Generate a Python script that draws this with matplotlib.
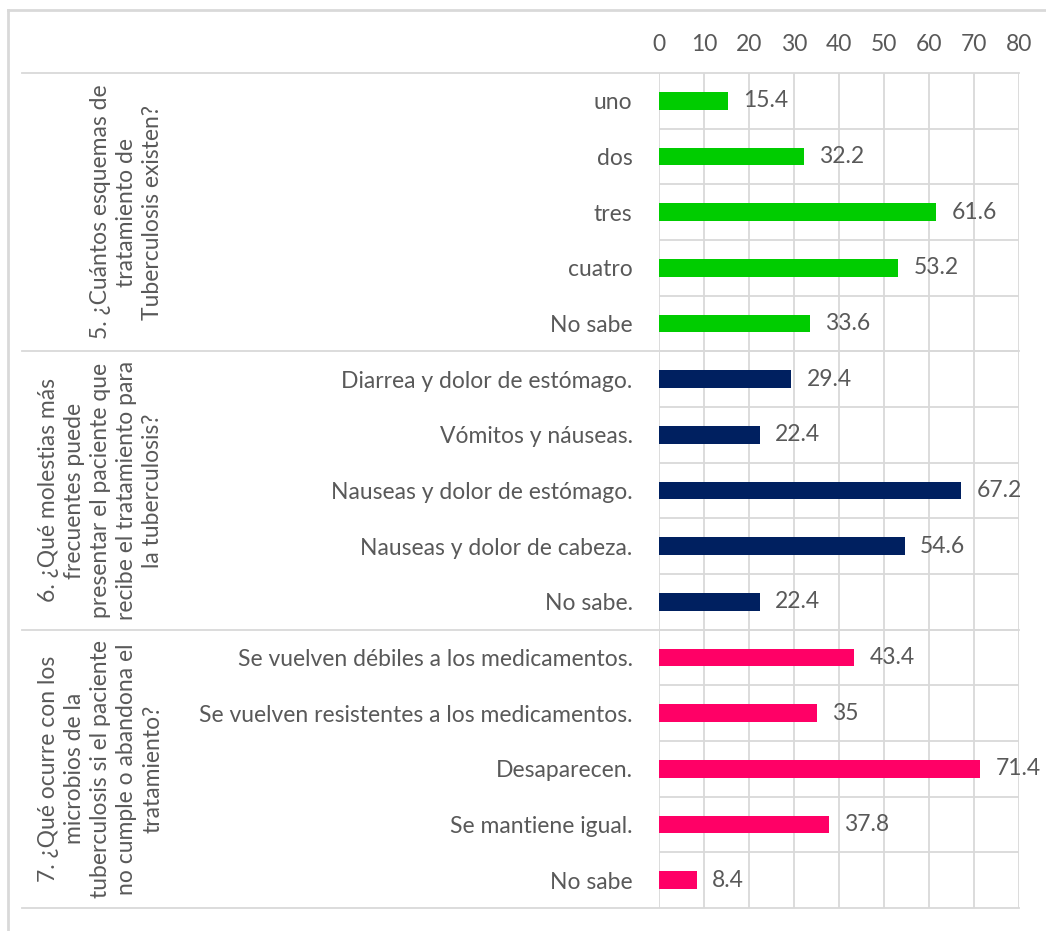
import matplotlib
matplotlib.use("Agg")
import matplotlib.pyplot as plt
from matplotlib.transforms import blended_transform_factory
from matplotlib.lines import Line2D

plt.rcParams['font.family'] = ['Lato', 'DejaVu Sans']

# Survey questions (group labels) and answer options
groups = [
    "5. ¿Cuántos esquemas de\ntratamiento de\nTuberculosis existen?",
    "6. ¿Qué molestias más\nfrecuentes puede\npresentar el paciente que\nrecibe el tratamiento para\nla tuberculosis?",
    "7. ¿Qué ocurre con los\nmicrobios de la\ntuberculosis si el paciente\nno cumple o abandona el\ntratamiento?",
]

q5_labels = ["uno", "dos", "tres", "cuatro", "No sabe"]
q5_values = [15.4, 32.2, 61.6, 53.2, 33.6]

q6_labels = ["Diarrea y dolor de estómago.", "Vómitos y náuseas.",
             "Nauseas y dolor de estómago.", "Nauseas y dolor de cabeza.", "No sabe."]
q6_values = [29.4, 22.4, 67.2, 54.6, 22.4]

q7_labels = ["Se vuelven débiles a los medicamentos.",
             "Se vuelven resistentes a los medicamentos.",
             "Desaparecen.", "Se mantiene igual.", "No sabe"]
q7_values = [43.4, 35, 71.4, 37.8, 8.4]

x_ticks = [0, 10, 20, 30, 40, 50, 60, 70, 80]

group_colors = ["#00CC00", "#002060", "#FF0066"]
text_color = "#595959"
grid_color = "#D9D9D9"
fs = 16.5

W, H = 1046, 931
fig = plt.figure(figsize=(W / 100, H / 100), dpi=100)
ax = fig.add_axes([659 / W, 1 - 908 / H, (1019 - 659) / W, (908 - 73) / H])

all_labels = q5_labels + q6_labels + q7_labels
all_values = q5_values + q6_values + q7_values
group_sizes = [len(q5_labels), len(q6_labels), len(q7_labels)]
colors = []
for c, n in zip(group_colors, group_sizes):
    colors += [c] * n

ypos = list(range(len(all_labels)))
ax.barh(ypos, all_values, height=0.32, color=colors, zorder=3)

for y, v in zip(ypos, all_values):
    ax.annotate(f"{v:g}", xy=(v, y), xytext=(11, 0), textcoords="offset points",
                ha="left", va="center", fontsize=fs, color=text_color,
                clip_on=False, annotation_clip=False)

ax.set_xlim(0, 80)
ax.set_ylim(len(all_labels) - 0.5, -0.5)
ax.set_xticks(x_ticks)
ax.set_xticklabels([str(t) for t in x_ticks])
ax.xaxis.tick_top()
ax.tick_params(axis="x", length=0, pad=13, labelsize=fs, labelcolor=text_color)
ax.set_yticks(ypos)
ax.set_yticklabels(all_labels)
ax.tick_params(axis="y", length=0, pad=19, labelsize=fs, labelcolor=text_color)

for s in ax.spines.values():
    s.set_visible(False)

# vertical gridlines
for t in x_ticks:
    ax.axvline(t, color=grid_color, lw=1.3, zorder=1)
# horizontal lines between categories inside the plot
for b in range(1, len(all_labels)):
    ax.axhline(b - 0.5, color=grid_color, lw=1.3, zorder=1)

# group separators reaching into the label area
trans = blended_transform_factory(fig.transFigure, ax.transData)
bounds = [-0.5]
for n in group_sizes:
    bounds.append(bounds[-1] + n)
for b in bounds:
    ax.add_line(Line2D([22 / W, 1019 / W], [b, b], transform=trans,
                       color=grid_color, lw=1.3, clip_on=False, zorder=1))

# rotated group labels
for g, lo, hi in zip(groups, bounds[:-1], bounds[1:]):
    ax.text(163 / W, (lo + hi) / 2, g, transform=trans, rotation=90,
            ha="right", va="center", multialignment="center",
            fontsize=fs, color=text_color, linespacing=1.3)

# outer chart frame (top and left edges)
fig.add_artist(Line2D([8 / W, 1], [1 - 10 / H, 1 - 10 / H], transform=fig.transFigure,
                      color=grid_color, lw=2))
fig.add_artist(Line2D([8 / W, 8 / W], [0, 1 - 10 / H], transform=fig.transFigure,
                      color=grid_color, lw=2))

fig.savefig("out.png", dpi=100, facecolor="white")
